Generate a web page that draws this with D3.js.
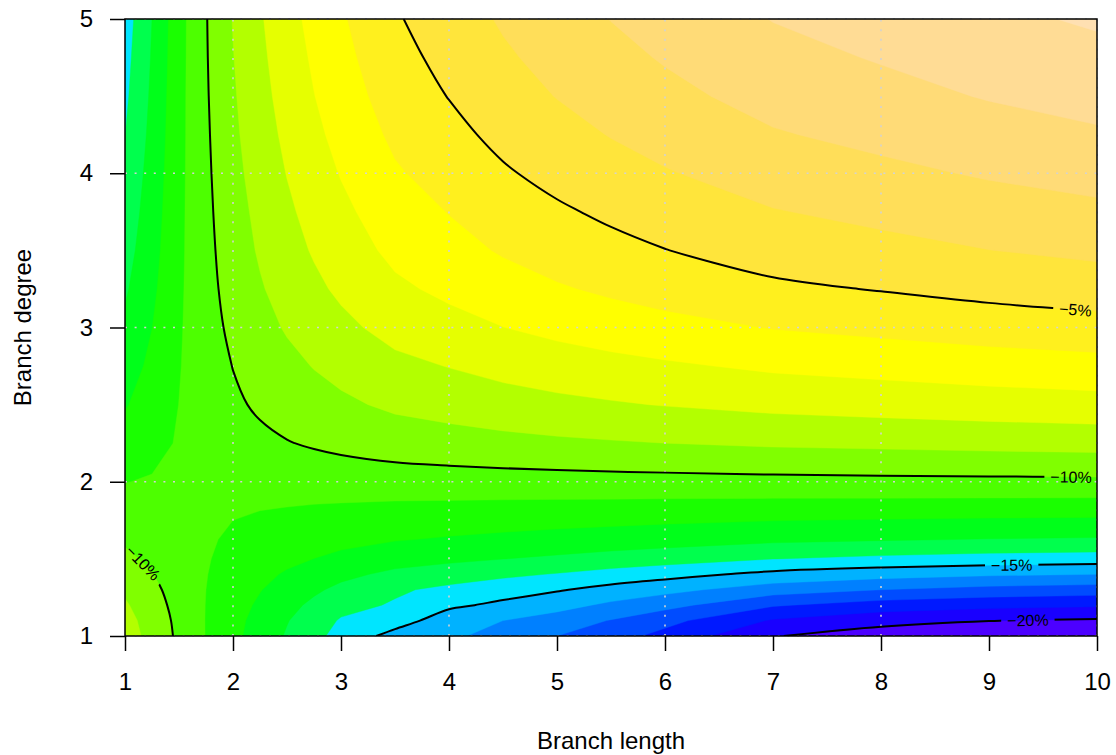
<!DOCTYPE html>
<html>
<head>
<meta charset="utf-8">
<script src="https://cdn.jsdelivr.net/npm/d3@7"></script>
<style>
  body { margin: 0; background: #fff; }
  text { font-family: "Liberation Sans", Arial, sans-serif; }
</style>
</head>
<body>
<div id="chart"></div>
<script>
// filled contour of % change over branch length (x) and branch degree (y)
(function () {
    "use strict";

    // grid nodes
    var branchLength = [1, 1.25, 1.5, 1.75, 2, 2.25, 2.5, 2.75, 3, 3.5, 4, 4.5, 5, 5.5, 6, 7, 8, 9, 10];
    var branchDegree = [1, 1.1, 1.2, 1.3, 1.4, 1.5, 1.625, 1.75, 1.875, 2, 2.25, 2.5, 2.75, 3, 3.25, 3.5, 3.75, 4, 4.25, 4.5, 4.75, 5];
    // % change, one row per branchDegree value
    var pctChange = [
        [-8.50, -9.34, -10.19, -11.03, -11.76, -12.42, -13.10, -13.73, -14.34, -15.35, -15.80, -16.40, -17.00, -17.60, -18.30, -19.95, -20.45, -20.72, -20.90],
        [-8.64, -9.43, -10.24, -11.03, -11.71, -12.32, -12.95, -13.53, -14.09, -14.57, -15.50, -16.00, -16.45, -17.05, -17.70, -19.10, -19.70, -19.98, -20.12],
        [-8.88, -9.59, -10.32, -11.02, -11.62, -12.15, -12.71, -13.21, -13.69, -14.10, -14.82, -15.20, -15.65, -16.20, -16.68, -17.90, -18.45, -18.72, -18.87],
        [-9.16, -9.77, -10.40, -11.00, -11.51, -11.96, -12.42, -12.84, -13.24, -13.86, -14.23, -14.59, -14.91, -15.33, -15.71, -16.53, -17.00, -17.33, -17.50],
        [-9.47, -9.97, -10.49, -10.97, -11.39, -11.75, -12.11, -12.44, -12.75, -13.23, -13.52, -13.80, -14.06, -14.37, -14.65, -15.26, -15.61, -15.86, -16.00],
        [-9.80, -10.18, -10.58, -10.94, -11.25, -11.52, -11.78, -12.01, -12.23, -12.58, -12.79, -12.99, -13.17, -13.38, -13.58, -13.99, -14.22, -14.40, -14.50],
        [-10.13, -10.39, -10.67, -10.91, -11.11, -11.28, -11.45, -11.59, -11.73, -11.95, -12.09, -12.21, -12.33, -12.45, -12.56, -12.80, -12.93, -13.04, -13.10],
        [-10.38, -10.54, -10.72, -10.87, -11.00, -11.11, -11.20, -11.29, -11.37, -11.50, -11.58, -11.66, -11.73, -11.79, -11.86, -11.98, -12.05, -12.11, -12.15],
        [-10.68, -10.73, -10.78, -10.82, -10.86, -10.89, -10.91, -10.94, -10.96, -11.00, -11.02, -11.04, -11.06, -11.07, -11.09, -11.12, -11.13, -11.15, -11.16],
        [-11.02, -10.93, -10.83, -10.76, -10.69, -10.64, -10.60, -10.56, -10.52, -10.46, -10.42, -10.39, -10.36, -10.33, -10.31, -10.26, -10.23, -10.21, -10.19],
        [-11.61, -11.28, -10.92, -10.63, -10.40, -10.21, -10.04, -9.90, -9.77, -9.55, -9.41, -9.28, -9.17, -9.08, -9.00, -8.86, -8.78, -8.69, -8.62],
        [-12.07, -11.56, -10.99, -10.54, -10.16, -9.86, -9.61, -9.38, -9.18, -8.82, -8.61, -8.40, -8.23, -8.09, -7.96, -7.74, -7.60, -7.47, -7.36],
        [-12.45, -11.79, -11.05, -10.46, -9.98, -9.59, -9.26, -8.96, -8.70, -8.24, -7.97, -7.70, -7.48, -7.29, -7.13, -6.84, -6.67, -6.49, -6.35],
        [-12.81, -12.01, -11.10, -10.39, -9.79, -9.32, -8.91, -8.55, -8.23, -7.67, -7.33, -7.01, -6.74, -6.51, -6.31, -5.96, -5.75, -5.53, -5.36],
        [-13.13, -12.20, -11.15, -10.32, -9.63, -9.09, -8.61, -8.20, -7.83, -7.18, -6.79, -6.41, -6.10, -5.84, -5.60, -5.19, -4.95, -4.70, -4.50],
        [-13.39, -12.36, -11.19, -10.27, -9.50, -8.89, -8.37, -7.91, -7.49, -6.77, -6.33, -5.91, -5.57, -5.28, -5.02, -4.56, -4.29, -4.01, -3.79],
        [-13.61, -12.49, -11.22, -10.22, -9.40, -8.74, -8.17, -7.67, -7.22, -6.44, -5.97, -5.51, -5.14, -4.82, -4.54, -4.05, -3.75, -3.45, -3.21],
        [-13.82, -12.61, -11.25, -10.18, -9.29, -8.58, -7.97, -7.43, -6.95, -6.11, -5.60, -5.11, -4.71, -4.37, -4.07, -3.54, -3.22, -2.90, -2.64],
        [-14.01, -12.73, -11.28, -10.14, -9.19, -8.44, -7.79, -7.22, -6.70, -5.81, -5.27, -4.75, -4.33, -3.96, -3.64, -3.08, -2.74, -2.40, -2.12],
        [-14.19, -12.83, -11.30, -10.10, -9.11, -8.31, -7.63, -7.02, -6.48, -5.54, -4.97, -4.42, -3.97, -3.59, -3.25, -2.66, -2.30, -1.94, -1.65],
        [-14.33, -12.92, -11.33, -10.07, -9.03, -8.20, -7.49, -6.86, -6.29, -5.31, -4.72, -4.14, -3.68, -3.27, -2.92, -2.30, -1.93, -1.56, -1.25],
        [-14.47, -13.00, -11.35, -10.05, -8.96, -8.10, -7.36, -6.70, -6.12, -5.10, -4.48, -3.89, -3.40, -2.98, -2.62, -1.97, -1.58, -1.20, -0.88]
    ];
    var fillLevels = [-21, -20, -19, -18, -17, -16, -15, -14, -13, -12, -11, -10, -9, -8, -7, -6, -5, -4, -3, -2, -1, 0];
    var lineLevels = [-20, -15, -10, -5];
    // where along x each contour label sits
    var labelLevel = [-5, -10, -15, -20, -10];
    var labelAtX = [9.8, 9.76, 9.21, 9.36, 1.167];
    var xTicks = [1, 2, 3, 4, 5, 6, 7, 8, 9, 10];
    var yTicks = [1, 2, 3, 4, 5];
    var gridX = [2, 4, 6, 8, 10];
    var gridY = [1, 2, 3, 4, 5];

    var w = 1116, h = 755, left = 125, right = 1097, top = 19, bottom = 636;

    // R topo.colors(n)
    function hsv(hh, s, v) {
        var i = Math.floor(hh * 6), f = hh * 6 - i, p = v * (1 - s), q = v * (1 - f * s), t = v * (1 - (1 - f) * s);
        var c = [[v, t, p], [q, v, p], [p, v, t], [p, q, v], [t, p, v], [v, p, q]][i % 6];
        return d3.rgb(c[0] * 255, c[1] * 255, c[2] * 255).formatHex();
    }
    function topoColors(n) {
        var j = Math.floor(n / 3), k = Math.floor(n / 3), i = n - j - k, cols = [], m;
        for (m = 0; m < i; m++) cols.push(hsv(43 / 60 + (31 / 60 - 43 / 60) * m / (i - 1), 1, 1));
        for (m = 0; m < j; m++) cols.push(hsv(23 / 60 + (11 / 60 - 23 / 60) * m / (j - 1), 1, 1));
        for (m = 0; m < k; m++) cols.push(hsv(10 / 60 + (6 / 60 - 10 / 60) * m / (k - 1), 1 - 0.7 * m / (k - 1), 1));
        return cols;
    }
    var colors = topoColors(fillLevels.length - 1);

    var x = d3.scaleLinear().domain([1, 10]).range([left, right]);
    var y = d3.scaleLinear().domain([1, 5]).range([bottom, top]);
    var nx = branchLength.length, ny = branchDegree.length;
    // grid index -> data value (grid is not evenly spaced)
    var ix = d3.scaleLinear().domain(d3.range(nx)).range(branchLength).clamp(true);
    var iy = d3.scaleLinear().domain(d3.range(ny)).range(branchDegree).clamp(true);
    function toPx(c) { return [x(ix(c[0] - 0.5)), y(iy(c[1] - 0.5))]; }

    var values = d3.merge(pctChange);
    var contours = d3.contours().size([nx, ny]);

    var svg = d3.select('#chart').append('svg').attr('width', w).attr('height', h);
    svg.append('rect').attr('width', w).attr('height', h).attr('fill', '#fff');

    var defs = svg.append('defs');
    defs.append('clipPath').attr('id', 'plotclip').append('rect')
        .attr('x', left).attr('y', top).attr('width', right - left).attr('height', bottom - top);

    var geo = d3.geoPath(d3.geoTransform({
        point: function (a, b) { var p = toPx([a, b]); this.stream.point(p[0], p[1]); }
    }));

    // filled bands
    var bands = contours.thresholds(fillLevels.slice(0, -1))(values);
    svg.append('g').attr('clip-path', 'url(#plotclip)')
        .selectAll('path').data(bands).enter().append('path')
        .attr('d', geo)
        .attr('fill', function (d, i) { return colors[i]; })
        .attr('stroke', function (d, i) { return colors[i]; })
        .attr('stroke-width', 0.4);

    // dotted grid
    var grid = svg.append('g').attr('stroke', '#d3d3d3').attr('stroke-width', 1.6)
        .attr('stroke-dasharray', '2,7.6');
    grid.selectAll('.gx').data(gridX).enter().append('line')
        .attr('x1', x).attr('x2', x).attr('y1', bottom).attr('y2', top);
    grid.selectAll('.gy').data(gridY).enter().append('line')
        .attr('y1', y).attr('y2', y).attr('x1', left).attr('x2', right);

    // contour lines: ring pieces that are not on the plot border
    function onBorder(a, b) {
        var e = 0.01;
        return (Math.abs(a[0] - left) < e && Math.abs(b[0] - left) < e) ||
            (Math.abs(a[0] - right) < e && Math.abs(b[0] - right) < e) ||
            (Math.abs(a[1] - top) < e && Math.abs(b[1] - top) < e) ||
            (Math.abs(a[1] - bottom) < e && Math.abs(b[1] - bottom) < e);
    }
    function isoRuns(level) {
        var runs = [];
        contours.contour(values, level).coordinates.forEach(function (poly) {
            poly.forEach(function (ring) {
                var pts = ring.slice(0, -1).map(toPx), n = pts.length, start = 0, k;
                for (k = 0; k < n; k++) if (onBorder(pts[k], pts[(k + 1) % n])) { start = k + 1; break; }
                var run = [];
                for (k = 0; k < n; k++) {
                    var a = pts[(start + k) % n], b = pts[(start + k + 1) % n];
                    if (onBorder(a, b)) {
                        if (run.length > 1) runs.push(run);
                        run = [];
                    } else {
                        if (!run.length) run.push(a);
                        run.push(b);
                    }
                }
                if (run.length > 1) runs.push(run);
            });
        });
        return runs;
    }
    var lineData = lineLevels.map(function (lv) { return {level: lv, runs: isoRuns(lv)}; });

    // label placement on the iso line at a given x
    function pointAt(runs, X) {
        for (var r = 0; r < runs.length; r++) {
            var run = runs[r];
            for (var k = 0; k < run.length - 1; k++) {
                var a = run[k], b = run[k + 1];
                if ((a[0] - X) * (b[0] - X) <= 0 && a[0] !== b[0]) {
                    var t = (X - a[0]) / (b[0] - a[0]);
                    var p = [a[0] + t * (b[0] - a[0]), a[1] + t * (b[1] - a[1])];
                    var ang = Math.atan2(b[1] - a[1], b[0] - a[0]) * 180 / Math.PI;
                    if (ang > 90) ang -= 180;
                    if (ang < -90) ang += 180;
                    return {p: p, ang: ang};
                }
            }
        }
        return null;
    }

    var mask = defs.append('mask').attr('id', 'labelmask').attr('maskUnits', 'userSpaceOnUse')
        .attr('x', 0).attr('y', 0).attr('width', w).attr('height', h);
    mask.append('rect').attr('width', w).attr('height', h).attr('fill', '#fff');

    var labelG = svg.append('g');
    labelLevel.forEach(function (lv, i) {
        var ld = lineData.filter(function (d) { return d.level === lv; })[0];
        var pos = pointAt(ld.runs, x(labelAtX[i]));
        if (!pos) return;
        var tr = 'translate(' + pos.p[0] + ',' + pos.p[1] + ') rotate(' + pos.ang + ')';
        var t = labelG.append('text').attr('transform', tr)
            .attr('text-anchor', 'middle').attr('dy', '0.36em')
            .attr('font-size', 16).attr('fill', '#000')
            .text('\u2212' + Math.abs(lv) + '%');
        var tw = t.node().getComputedTextLength();
        mask.append('rect').attr('transform', tr)
            .attr('x', -tw / 2 - 6).attr('y', -9).attr('width', tw + 12).attr('height', 18)
            .attr('fill', '#000');
    });

    var line = d3.line().curve(d3.curveCatmullRom.alpha(0.5));
    var linesG = svg.insert('g', function () { return labelG.node(); })
        .attr('clip-path', 'url(#plotclip)');
    linesG.append('g').attr('mask', 'url(#labelmask)')
        .selectAll('path').data(d3.merge(lineData.map(function (d) { return d.runs; })))
        .enter().append('path')
        .attr('d', line)
        .attr('fill', 'none').attr('stroke', '#000').attr('stroke-width', 2);

    // box
    svg.append('rect').attr('x', left).attr('y', top).attr('width', right - left).attr('height', bottom - top)
        .attr('fill', 'none').attr('stroke', '#000').attr('stroke-width', 1.5);

    // axes
    var xAxis = svg.append('g').attr('transform', 'translate(0,' + bottom + ')')
        .call(d3.axisBottom(x).tickValues(xTicks).tickFormat(d3.format('d')).tickSize(15).tickPadding(22));
    var yAxis = svg.append('g').attr('transform', 'translate(' + left + ',0)')
        .call(d3.axisLeft(y).tickValues(yTicks).tickFormat(d3.format('d')).tickSize(15).tickPadding(17));
    [xAxis, yAxis].forEach(function (g) {
        g.select('.domain').remove();
        g.selectAll('.tick line').attr('stroke', '#000').attr('stroke-width', 1.5);
        g.selectAll('.tick text').attr('font-size', 24).attr('fill', '#000')
            .attr('font-family', '"Liberation Sans", Arial, sans-serif');
    });

    svg.append('text').attr('x', (left + right) / 2).attr('y', 749)
        .attr('text-anchor', 'middle').attr('font-size', 24).text('Branch length');
    svg.append('text').attr('transform', 'translate(31,' + (top + bottom) / 2 + ') rotate(-90)')
        .attr('text-anchor', 'middle').attr('font-size', 24).text('Branch degree');
}());
</script>
</body>
</html>
